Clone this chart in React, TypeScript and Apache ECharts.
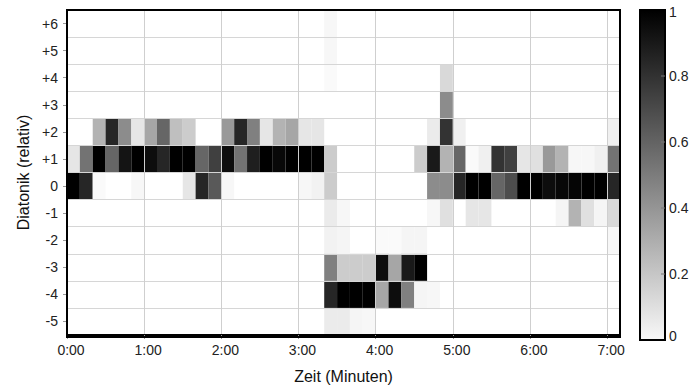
import React, { useEffect, useRef } from "react";
import * as echarts from "echarts";

// 43 time columns of 10 seconds each
const STEP_SECONDS = 10;
const X_MAX = 430;
const X_TICK_LABELS = ["0:00", "1:00", "2:00", "3:00", "4:00", "5:00", "6:00", "7:00"];
const Y_CATEGORIES = ["-5", "-4", "-3", "-2", "-1", "0", "+1", "+2", "+3", "+4", "+5", "+6"];
const COLORBAR_LABELS = ["0", "0.2", "0.4", "0.6", "0.8", "1"];

// values per row, index = column (0..42)
const rowP6 = [0,0,0,0,0,0,0,0,0,0, 0,0,0,0,0,0,0,0,0,0, 0.03,0,0,0,0,0,0,0,0,0, 0,0,0,0,0,0,0,0,0,0, 0,0,0];
const rowP5 = [0,0,0,0,0,0,0,0,0,0, 0,0,0,0,0,0,0,0,0,0, 0.03,0,0,0,0,0,0,0,0,0, 0,0,0,0,0,0,0,0,0,0, 0,0,0];
const rowP4 = [0,0,0,0,0,0,0,0,0,0, 0,0,0,0,0,0,0,0,0,0, 0.02,0,0,0,0,0,0,0,0,0.15, 0,0,0,0,0,0,0,0,0,0, 0,0,0];
const rowP3 = [0,0,0,0,0,0,0,0,0,0, 0,0,0,0,0,0,0,0,0,0, 0,0,0,0,0,0,0,0,0,0.45, 0,0,0,0,0,0,0,0,0,0, 0,0,0];
const rowP2 = [0,0,0.3,0.85,0.45,0.1,0.35,0.6,0.25,0.2, 0,0,0.4,0.85,0.5,0.1,0.3,0.35,0.1,0.1, 0,0,0,0,0,0,0,0,0.08,0.8, 0.06,0,0,0,0,0,0,0,0,0, 0,0,0.06];
const rowP1 = [0.1,0.55,1,0.6,0.92,1,0.95,0.85,1,1, 0.6,0.75,0.95,0.55,0.88,1,0.97,1,1,1, 0.2,0,0,0,0,0,0,0.2,0.9,0.3, 0.6,0.02,0.06,0.8,0.75,0.1,0.12,0.4,0.3,0.03, 0.03,0.06,0.55];
const row0 = [1,0.85,0.02,0,0,0.03,0,0,0,0.1, 0.85,0.65,0.03,0,0,0,0,0,0.03,0.05, 0.2,0,0,0,0,0,0,0,0.45,0.45, 0.85,1,1,0.6,0.7,1,1,0.95,0.97,0.98, 1,1,0.85];
const rowM1 = [0,0,0,0,0,0,0,0,0,0, 0,0,0,0,0,0,0,0,0,0, 0.08,0.03,0,0,0,0,0,0,0.03,0.12, 0,0.1,0.1,0,0,0,0,0,0.04,0.3, 0.12,0.04,0.15];
const rowM2 = [0,0,0,0,0,0,0,0,0,0, 0,0,0,0,0,0,0,0,0,0, 0.05,0.04,0,0,0.02,0.02,0.04,0.04,0,0, 0,0,0,0,0,0,0,0,0,0, 0,0,0.03];
const rowM3 = [0,0,0,0,0,0,0,0,0,0, 0,0,0,0,0,0,0,0,0,0, 0.5,0.2,0.2,0.2,0.95,0.35,0.9,1,0,0, 0,0,0,0,0,0,0,0,0,0, 0,0,0];
const rowM4 = [0,0,0,0,0,0,0,0,0,0, 0,0,0,0,0,0,0,0,0,0, 0.85,1,1,1,0.35,0.95,0.5,0.04,0.03,0, 0,0,0,0,0,0,0,0,0,0, 0,0,0];
const rowM5 = [0,0,0,0,0,0,0,0,0,0, 0,0,0,0,0,0,0,0,0,0, 0.08,0.08,0.04,0.03,0,0,0,0,0,0, 0,0,0,0,0,0,0,0,0,0, 0,0,0];

// bottom (-5) to top (+6), same order as Y_CATEGORIES
const ROWS = [rowM5, rowM4, rowM3, rowM2, rowM1, row0, rowP1, rowP2, rowP3, rowP4, rowP5, rowP6];

const FONT = "Liberation Sans, Arial, sans-serif";

function grayFor(v: number): string {
  const g = Math.round(255 * (1 - Math.max(0, Math.min(1, v))));
  return `rgb(${g},${g},${g})`;
}

export default function App() {
  const ref = useRef<HTMLDivElement>(null);

  useEffect(() => {
    if (!ref.current) return;
    const chart = echarts.init(ref.current, undefined, { renderer: "svg" });

    const data: number[][] = [];
    ROWS.forEach((row, r) => {
      row.forEach((v, c) => {
        if (v > 0) data.push([c, r, v]);
      });
    });

    const gridLeft = 67;
    const gridTop = 10;
    const gridW = 553;
    const gridH = 327;

    const cbX = 640;
    const cbY = 10;
    const cbW = 25;
    const cbH = 330;

    const graphics: any[] = [
      {
        type: "rect",
        z: 100,
        silent: true,
        shape: { x: gridLeft, y: gridTop, width: gridW, height: gridH },
        style: { fill: "none", stroke: "#000", lineWidth: 2 },
      },
      {
        type: "rect",
        z: 100,
        shape: { x: cbX, y: cbY, width: cbW, height: cbH },
        style: {
          fill: new echarts.graphic.LinearGradient(0, 0, 0, 1, [
            { offset: 0, color: "#000000" },
            { offset: 1, color: "#f8f8f8" },
          ]),
          stroke: "#000",
          lineWidth: 2,
        },
      },
    ];
    COLORBAR_LABELS.forEach((lab, i) => {
      const v = i / (COLORBAR_LABELS.length - 1);
      const y = cbY + cbH - v * cbH;
      if (i > 0 && i < COLORBAR_LABELS.length - 1) {
        graphics.push({
          type: "line",
          z: 101,
          shape: { x1: cbX + cbW - 4, y1: y, x2: cbX + cbW, y2: y },
          style: { stroke: "#777", lineWidth: 1 },
        });
      }
      graphics.push({
        type: "text",
        z: 101,
        x: cbX + cbW + 4,
        y: i === 0 ? y - 4 : i === COLORBAR_LABELS.length - 1 ? y + 2 : y,
        style: {
          text: lab,
          fill: "#222",
          font: `14px ${FONT}`,
          textAlign: "left",
          textVerticalAlign: "middle",
        },
      });
    });

    chart.setOption({
      animation: false,
      backgroundColor: "#fff",
      textStyle: { fontFamily: FONT },
      grid: { left: gridLeft, top: gridTop, width: gridW, height: gridH, containLabel: false },
      xAxis: {
        type: "value",
        min: 0,
        max: X_MAX,
        interval: 60,
        z: 10,
        name: "Zeit (Minuten)",
        nameLocation: "middle",
        nameGap: 33,
        nameTextStyle: { fontSize: 16, color: "#111", fontFamily: FONT },
        axisLine: { show: true, lineStyle: { color: "#000", width: 2 } },
        axisTick: { show: true, length: 4, lineStyle: { color: "#999" } },
        axisLabel: {
          fontSize: 14,
          color: "#222",
          fontFamily: FONT,
          margin: 8,
          padding: [0, 0, 0, 8],
          showMaxLabel: false,
          formatter: (val: number) => X_TICK_LABELS[Math.round(val / 60)] ?? "",
        },
        splitLine: { show: true, lineStyle: { color: "#cfcfcf", width: 1 } },
      },
      yAxis: {
        type: "category",
        data: Y_CATEGORIES,
        boundaryGap: true,
        z: 10,
        name: "Diatonik (relativ)",
        nameLocation: "middle",
        nameGap: 36,
        nameRotate: 90,
        nameTextStyle: { fontSize: 16, color: "#111", fontFamily: FONT },
        axisLine: { show: true, lineStyle: { color: "#000", width: 2 } },
        axisTick: { show: true, alignWithLabel: true, interval: 0, length: 4, lineStyle: { color: "#999" } },
        axisLabel: { fontSize: 14, color: "#222", fontFamily: FONT, margin: 9, interval: 0 },
        splitLine: { show: true, interval: 0, lineStyle: { color: "#d6d6d6", width: 1 } },
      },
      series: [
        {
          type: "custom",
          z: 2,
          data,
          encode: { x: 0, y: 1 },
          renderItem: (params: any, api: any) => {
            const col = api.value(0);
            const row = api.value(1);
            const v = api.value(2);
            const start = api.coord([col * STEP_SECONDS, row]);
            const end = api.coord([(col + 1) * STEP_SECONDS, row]);
            const h = api.size([0, 1])[1];
            return {
              type: "rect",
              shape: { x: start[0], y: start[1] - h / 2, width: end[0] - start[0], height: h },
              style: { fill: grayFor(v), stroke: null },
            };
          },
        },
      ],
      graphic: graphics,
    });

    return () => chart.dispose();
  }, []);

  return (
    <div
      ref={ref}
      style={{ position: "fixed", left: 0, top: 0, width: 691, height: 389 }}
    />
  );
}
